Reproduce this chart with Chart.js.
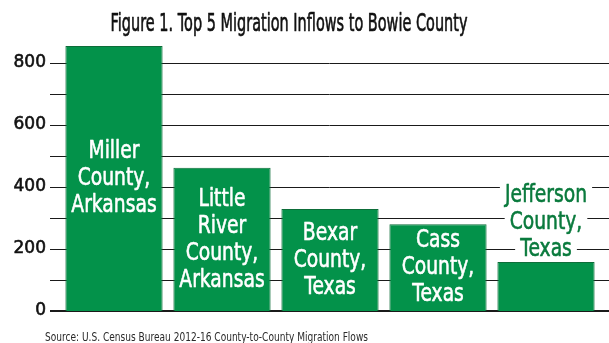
<!DOCTYPE html>
<html>
<head>
<meta charset="utf-8">
<script src="https://cdn.jsdelivr.net/npm/chart.js@4"></script>
<style>
    body { margin: 0; background: #fff; }
    #wrap { width: 609px; height: 343px; position: relative; }
</style>
</head>
<body>
<div id="wrap"><canvas id="inflowChart"></canvas></div>
<script>
// Chart data
const counties = ['Miller County, Arkansas', 'Little River County, Arkansas', 'Bexar County, Texas', 'Cass County, Texas', 'Jefferson County, Texas'];
const countyLines = [
    ['Miller', 'County,', 'Arkansas'],
    ['Little', 'River', 'County,', 'Arkansas'],
    ['Bexar', 'County,', 'Texas'],
    ['Cass', 'County,', 'Texas'],
    ['Jefferson', 'County,', 'Texas']
];
const inflows = [855, 462, 329, 280, 158];
const gridValues = [0, 100, 200, 300, 400, 500, 600, 700, 800];
const labelledTicks = [0, 200, 400, 600, 800];
const chartTitle = 'Figure 1. Top 5 Migration Inflows to Bowie County';
const sourceNote = 'Source: U.S. Census Bureau 2012-16 County-to-County Migration Flows';

// Colours and fonts
const barGreen = '#03924a';
const barEdge = '#0d6d39';
const darkGreen = '#0a7a3d';
const baseFont = '"DejaVu Sans", sans-serif';

// No condensed face is installed, so squeeze the text horizontally
// (a thin outline in the same colour gives it a medium weight)
function fillNarrow(ctx, text, x, y, squeeze, weight) {
    ctx.save();
    ctx.translate(x, y);
    ctx.scale(squeeze, 1);
    ctx.fillText(text, 0, 0);
    if (weight) {
        ctx.strokeStyle = ctx.fillStyle;
        ctx.lineWidth = weight;
        ctx.lineJoin = 'round';
        ctx.strokeText(text, 0, 0);
    }
    ctx.restore();
}

// Horizontal grid lines running across the full width
const gridPlugin = {
    id: 'fullGrid',
    beforeDatasetsDraw(chart) {
        const { ctx, chartArea, scales } = chart;
        ctx.save();
        ctx.strokeStyle = '#1a1a1a';
        gridValues.forEach(v => {
            const y = scales.y.getPixelForValue(v);
            const yy = v === 0 ? y : Math.round(y) + 0.5;
            ctx.lineWidth = v === 0 ? 2 : 1;
            ctx.beginPath();
            ctx.moveTo(chartArea.left - 10, yy);
            ctx.lineTo(chart.width, yy);
            ctx.stroke();
        });
        ctx.restore();
    }
};

// County names written inside (or above) the bars
const barLabelPlugin = {
    id: 'barLabels',
    afterDatasetsDraw(chart) {
        const { ctx } = chart;
        const meta = chart.getDatasetMeta(0);
        const size = 24;
        const squeeze = 0.78;
        const lineGap = 27;
        const cap = size * 0.73;
        ctx.save();
        ctx.font = size + 'px ' + baseFont;
        ctx.textAlign = 'center';
        ctx.textBaseline = 'alphabetic';
        meta.data.forEach((bar, i) => {
            const lines = countyLines[i];
            const block = cap + (lines.length - 1) * lineGap;
            if (bar.base - bar.y > block + 10) {
                const mid = (bar.y + bar.base) / 2 - 2;
                let y = mid - block / 2 + cap;
                ctx.fillStyle = '#ffffff';
                lines.forEach(line => {
                    fillNarrow(ctx, line, bar.x, y, squeeze, 0.6);
                    y += lineGap;
                });
            } else {
                let y = bar.y - 6 - (lines.length - 1) * lineGap;
                lines.forEach(line => {
                    const w = ctx.measureText(line).width * squeeze;
                    ctx.fillStyle = '#ffffff';
                    ctx.fillRect(bar.x - w / 2 - 5, y - cap - 4, w + 10, cap + 10);
                    ctx.fillStyle = darkGreen;
                    fillNarrow(ctx, line, bar.x, y, squeeze, 0.6);
                    y += lineGap;
                });
            }
        });
        ctx.restore();
    }
};

// Title and source note
const captionPlugin = {
    id: 'captions',
    afterDraw(chart) {
        const { ctx } = chart;
        ctx.save();
        ctx.fillStyle = '#111111';
        ctx.textBaseline = 'alphabetic';
        ctx.font = '25px ' + baseFont;
        ctx.textAlign = 'center';
        fillNarrow(ctx, chartTitle, 289, 31, 357 / ctx.measureText(chartTitle).width, 0.7);
        ctx.font = '13px ' + baseFont;
        ctx.textAlign = 'left';
        ctx.fillStyle = '#2a2a2a';
        fillNarrow(ctx, sourceNote, 45, 341, 323 / ctx.measureText(sourceNote).width);
        ctx.restore();
    }
};

const ctx = document.getElementById('inflowChart');
const inflowChart = new Chart(ctx, {
    type: 'bar',
    data: {
        labels: counties,
        datasets: [{
            label: 'Migration inflows',
            data: inflows,
            backgroundColor: barGreen,
            borderColor: barEdge,
            borderWidth: 1,
            barPercentage: 0.9,
            categoryPercentage: 1
        }]
    },
    options: {
        responsive: true,
        maintainAspectRatio: false,
        animation: false,
        layout: {
            padding: { top: 32, right: 9, bottom: 32, left: 0 }
        },
        plugins: {
            legend: { display: false },
            title: { display: false },
            tooltip: { enabled: false }
        },
        scales: {
            x: {
                display: false
            },
            y: {
                min: 0,
                max: 900,
                afterFit(scale) {
                    scale.width = 60;
                },
                border: { display: false },
                grid: { display: false, drawTicks: false },
                ticks: {
                    stepSize: 100,
                    padding: 14,
                    color: '#111111',
                    textStrokeColor: '#111111',
                    textStrokeWidth: 0.6,
                    font: { family: baseFont, size: 17 },
                    callback: v => labelledTicks.includes(v) ? v : null
                }
            }
        }
    },
    plugins: [gridPlugin, barLabelPlugin, captionPlugin]
});
</script>
</body>
</html>
